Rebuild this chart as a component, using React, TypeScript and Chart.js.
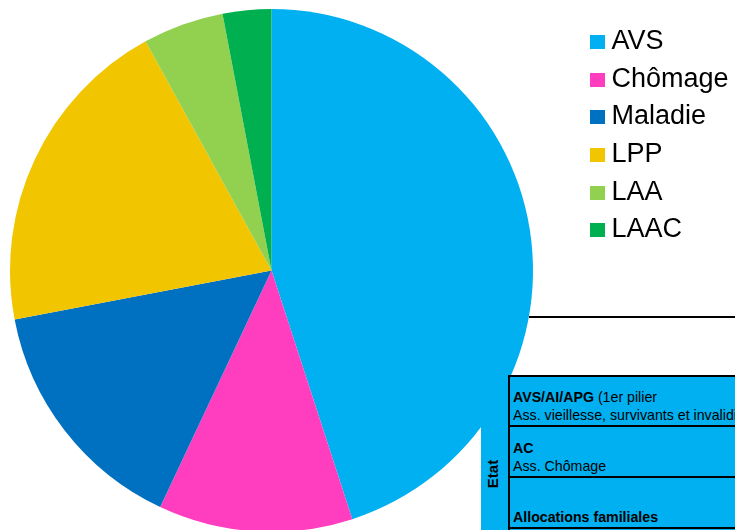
import React, { useEffect, useRef } from "react";
import { Chart, registerables } from "chart.js";

Chart.register(...registerables);

const categories: string[] = ["AVS", "Chômage", "Maladie", "LPP", "LAA", "LAAC"];
const shares: number[] = [45, 12, 15, 20, 5, 3];
const sliceColors: string[] = ["#00B0F0", "#FF3DBF", "#0070C0", "#F1C500", "#92D050", "#00B050"];

const tableGroup = "Etat";
const tableRows: { bold: string; normal: string; sub: string }[] = [
  { bold: "AVS/AI/APG", normal: " (1er pilier", sub: "Ass. vieillesse, survivants et invalidité" },
  { bold: "AC", normal: "", sub: "Ass. Chômage" },
  { bold: "Allocations familiales", normal: "", sub: "" },
];

const FONT = "'Liberation Sans', Arial, Helvetica, sans-serif";
const TABLE_BLUE = "#00B0F0";

export default function App() {
  const canvasRef = useRef<HTMLCanvasElement | null>(null);

  useEffect(() => {
    document.body.style.margin = "0";
    const canvas = canvasRef.current;
    if (!canvas) return;
    const chart = new Chart(canvas, {
      type: "pie",
      data: {
        labels: categories,
        datasets: [
          {
            data: shares,
            backgroundColor: sliceColors,
            borderWidth: 0,
            hoverOffset: 0,
          },
        ],
      },
      options: {
        responsive: false,
        animation: false,
        layout: { padding: { left: 10, top: 9, right: 202, bottom: 13 } },
        plugins: {
          legend: { display: false },
          tooltip: { enabled: false },
        },
      },
    });
    return () => chart.destroy();
  }, []);

  const rowTops = [376, 426.5, 477];
  const lineYs = [374.5, 425, 475.5, 527];

  return (
    <div
      style={{
        position: "fixed",
        left: 0,
        top: 0,
        width: 735,
        height: 530,
        overflow: "hidden",
        background: "#fff",
        fontFamily: FONT,
      }}
    >
      {/* top rule line */}
      <div style={{ position: "absolute", left: 529, top: 315.8, width: 206, height: 2, background: "#000" }} />
      <canvas ref={canvasRef} width={735} height={545} style={{ position: "absolute", left: 0, top: 0, width: 735, height: 545 }} />

      {/* legend */}
      {categories.map((c, i) => {
        const base = 50 + i * 37.66;
        return (
          <div key={c} style={{ position: "absolute", left: 590, top: 0, width: 145 }}>
            <div
              style={{
                position: "absolute",
                left: 0,
                top: base - 15,
                width: 14.5,
                height: 14,
                background: sliceColors[i],
              }}
            />
            <div
              style={{
                position: "absolute",
                left: 21.5,
                top: base - 22.85,
                fontSize: 27,
                lineHeight: "27px",
                color: "#000",
                whiteSpace: "nowrap",
              }}
            >
              {c}
            </div>
          </div>
        );
      })}

      {/* table overlay */}
      <div style={{ position: "absolute", left: 481, top: 375, width: 254, height: 160, background: TABLE_BLUE }} />
      <div style={{ position: "absolute", left: 508, top: 374.5, width: 2, height: 160, background: "#000" }} />
      {lineYs.map((y, i) => (
        <div key={"l" + i} style={{ position: "absolute", left: 508, top: y, width: 227, height: 2, background: "#000" }} />
      ))}
      {tableRows.map((r, i) => {
        const t = rowTops[i];
        return (
          <React.Fragment key={"r" + i}>
            <div
              style={{
                position: "absolute",
                left: 513,
                top: r.sub ? t + 14 : 510,
                fontSize: 14.2,
                lineHeight: "14px",
                whiteSpace: "nowrap",
                color: "#000",
              }}
            >
              <b>{r.bold}</b>
              {r.normal}
            </div>
            {r.sub ? (
              <div
                style={{
                  position: "absolute",
                  left: 513,
                  top: t + 32,
                  fontSize: 14.2,
                  lineHeight: "14px",
                  whiteSpace: "nowrap",
                  color: "#000",
                }}
              >
                {r.sub}
              </div>
            ) : null}
          </React.Fragment>
        );
      })}
      <div
        style={{
          position: "absolute",
          left: 492.8 - 30,
          top: 474 - 10,
          width: 60,
          height: 20,
          lineHeight: "20px",
          fontSize: 15,
          fontWeight: "bold",
          textAlign: "center",
          transform: "rotate(-90deg)",
          color: "#000",
        }}
      >
        {tableGroup}
      </div>
    </div>
  );
}
